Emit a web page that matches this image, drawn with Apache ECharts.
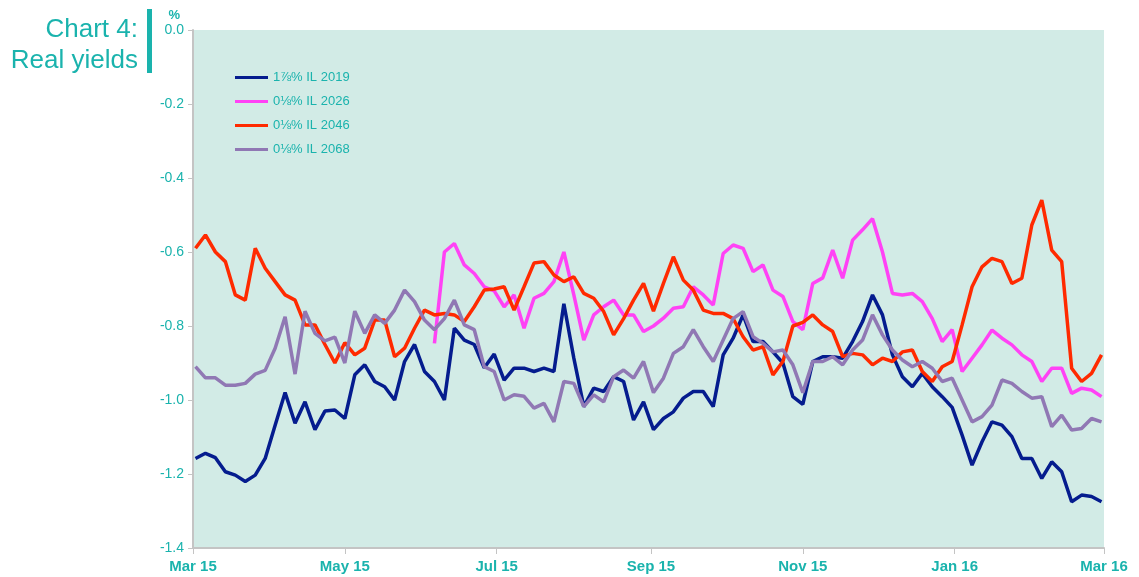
<!DOCTYPE html>
<html>
<head>
<meta charset="utf-8">
<title>Chart 4: Real yields</title>
<script src="https://cdn.jsdelivr.net/npm/echarts@6/dist/echarts.min.js"></script>
<style>
  html, body { margin: 0; padding: 0; background: #ffffff; }
  #main { width: 1139px; height: 577px; }
</style>
</head>
<body>
<div id="main"></div>
<script>
// sample dates (every 4 days)
var dates = [
  '2015-03-02','2015-03-06','2015-03-10','2015-03-14','2015-03-18','2015-03-22','2015-03-26','2015-03-30',
  '2015-04-03','2015-04-07','2015-04-11','2015-04-15','2015-04-19','2015-04-23','2015-04-27','2015-05-01',
  '2015-05-05','2015-05-09','2015-05-13','2015-05-17','2015-05-21','2015-05-25','2015-05-29','2015-06-02',
  '2015-06-06','2015-06-10','2015-06-14','2015-06-18','2015-06-22','2015-06-26','2015-06-30','2015-07-04',
  '2015-07-08','2015-07-12','2015-07-16','2015-07-20','2015-07-24','2015-07-28','2015-08-01','2015-08-05',
  '2015-08-09','2015-08-13','2015-08-17','2015-08-21','2015-08-25','2015-08-29','2015-09-02','2015-09-06',
  '2015-09-10','2015-09-14','2015-09-18','2015-09-22','2015-09-26','2015-09-30','2015-10-04','2015-10-08',
  '2015-10-12','2015-10-16','2015-10-20','2015-10-24','2015-10-28','2015-11-01','2015-11-05','2015-11-09',
  '2015-11-13','2015-11-17','2015-11-21','2015-11-25','2015-11-29','2015-12-03','2015-12-07','2015-12-11',
  '2015-12-15','2015-12-19','2015-12-23','2015-12-27','2015-12-31','2016-01-04','2016-01-08','2016-01-12',
  '2016-01-16','2016-01-20','2016-01-24','2016-01-28','2016-02-01','2016-02-05','2016-02-09','2016-02-13',
  '2016-02-17','2016-02-21','2016-02-25','2016-02-29'
];

var il2019 = [
  -1.158,-1.144,-1.156,-1.194,-1.203,-1.22,-1.203,-1.158,-1.068,-0.98,-1.063,-1.005,-1.08,-1.03,-1.027,-1.05,
  -0.932,-0.905,-0.95,-0.964,-1.0,-0.896,-0.85,-0.923,-0.95,-1.0,-0.806,-0.838,-0.85,-0.913,-0.876,-0.946,
  -0.914,-0.914,-0.923,-0.914,-0.923,-0.74,-0.887,-1.018,-0.968,-0.977,-0.937,-0.95,-1.054,-1.005,-1.08,-1.05,
  -1.032,-0.995,-0.977,-0.977,-1.018,-0.878,-0.833,-0.77,-0.842,-0.842,-0.87,-0.9,-0.991,-1.012,-0.896,-0.883,
  -0.883,-0.887,-0.842,-0.788,-0.716,-0.77,-0.878,-0.937,-0.964,-0.928,-0.964,-0.991,-1.02,-1.095,-1.176,-1.113,
  -1.059,-1.068,-1.099,-1.158,-1.158,-1.212,-1.167,-1.194,-1.275,-1.257,-1.261,-1.275
];

var il2026 = [
  null,null,null,null,null,null,null,null,null,null,null,null,null,null,null,null,
  null,null,null,null,null,null,null,null,-0.847,-0.6,-0.577,-0.635,-0.658,-0.694,-0.705,-0.748,
  -0.716,-0.806,-0.725,-0.712,-0.68,-0.6,-0.716,-0.838,-0.77,-0.748,-0.73,-0.77,-0.77,-0.815,-0.8,-0.779,
  -0.752,-0.748,-0.694,-0.716,-0.743,-0.604,-0.581,-0.59,-0.653,-0.635,-0.703,-0.72,-0.788,-0.81,-0.685,-0.67,
  -0.595,-0.671,-0.568,-0.54,-0.51,-0.6,-0.712,-0.716,-0.712,-0.734,-0.78,-0.842,-0.81,-0.923,-0.887,-0.851,
  -0.811,-0.833,-0.851,-0.878,-0.896,-0.95,-0.914,-0.914,-0.982,-0.968,-0.973,-0.991
];

var il2046 = [
  -0.59,-0.554,-0.6,-0.626,-0.716,-0.73,-0.59,-0.644,-0.68,-0.716,-0.73,-0.797,-0.797,-0.85,-0.9,-0.845,
  -0.878,-0.86,-0.784,-0.784,-0.883,-0.86,-0.806,-0.757,-0.77,-0.766,-0.77,-0.788,-0.748,-0.703,-0.7,-0.694,
  -0.757,-0.694,-0.63,-0.626,-0.662,-0.68,-0.667,-0.712,-0.725,-0.761,-0.824,-0.78,-0.73,-0.685,-0.76,-0.685,
  -0.613,-0.676,-0.703,-0.757,-0.766,-0.766,-0.78,-0.829,-0.865,-0.856,-0.932,-0.896,-0.8,-0.79,-0.77,-0.797,
  -0.815,-0.883,-0.874,-0.878,-0.905,-0.887,-0.896,-0.87,-0.865,-0.923,-0.95,-0.91,-0.896,-0.797,-0.694,-0.64,
  -0.617,-0.626,-0.685,-0.671,-0.527,-0.46,-0.595,-0.626,-0.914,-0.95,-0.928,-0.878
];

var il2068 = [
  -0.91,-0.94,-0.94,-0.96,-0.96,-0.955,-0.93,-0.92,-0.86,-0.775,-0.93,-0.76,-0.82,-0.84,-0.83,-0.9,
  -0.76,-0.82,-0.77,-0.793,-0.757,-0.703,-0.734,-0.784,-0.81,-0.78,-0.73,-0.797,-0.81,-0.91,-0.923,-1.0,
  -0.986,-0.99,-1.022,-1.009,-1.059,-0.95,-0.955,-1.018,-0.986,-1.005,-0.937,-0.919,-0.941,-0.896,-0.98,-0.941,
  -0.874,-0.856,-0.81,-0.856,-0.896,-0.838,-0.78,-0.761,-0.829,-0.847,-0.87,-0.865,-0.905,-0.98,-0.896,-0.896,
  -0.883,-0.905,-0.865,-0.838,-0.77,-0.824,-0.865,-0.892,-0.91,-0.896,-0.914,-0.95,-0.941,-1.0,-1.059,-1.045,
  -1.014,-0.946,-0.955,-0.977,-0.995,-0.991,-1.072,-1.041,-1.081,-1.077,-1.05,-1.059
];

var names = ['1⅞% IL 2019', '0⅛% IL 2026', '0⅛% IL 2046', '0⅛% IL 2068'];
var colors = ['#051c8e', '#ff42f5', '#ff2a00', '#9078b4'];

var tickDates = ['2015-03-01','2015-05-01','2015-07-01','2015-09-01','2015-11-01','2016-01-01','2016-03-01'];
var tickLabels = ['Mar 15','May 15','Jul 15','Sep 15','Nov 15','Jan 16','Mar 16'];

var teal = '#1ab3ad';

// day number counted from the first tick date
function dayOf(s) {
  var p = s.split('-');
  var t = Date.UTC(+p[0], +p[1] - 1, +p[2]);
  var q = tickDates[0].split('-');
  var t0 = Date.UTC(+q[0], +q[1] - 1, +q[2]);
  return Math.round((t - t0) / 86400000);
}

var tickDays = tickDates.map(dayOf);
var allValues = [il2019, il2026, il2046, il2068];

var series = [];
for (let i = 0; i < names.length; i++) {
  let data = [];
  for (let j = 0; j < dates.length; j++) {
    data.push([dayOf(dates[j]), allValues[i][j]]);
  }
  series.push({
    name: names[i],
    type: 'line',
    data: data,
    symbol: 'none',
    connectNulls: false,
    lineStyle: { width: 3.5, color: colors[i] },
    itemStyle: { color: colors[i] }
  });
}

var myChart = echarts.init(document.getElementById('main'));
var option = {
  animation: false,
  textStyle: { fontFamily: 'Liberation Sans, Arial, sans-serif' },
  title: {
    text: 'Chart 4:\nReal yields',
    left: 133,
    top: 9,
    textAlign: 'right',
    textStyle: {
      fontSize: 26,
      fontWeight: 'normal',
      color: teal,
      lineHeight: 31,
      align: 'right',
      fontFamily: 'Liberation Sans, Arial, sans-serif'
    }
  },
  graphic: [{
    type: 'rect',
    left: 147,
    top: 9,
    shape: { width: 5, height: 64 },
    style: { fill: teal }
  }],
  legend: {
    orient: 'vertical',
    left: 230,
    top: 66,
    itemWidth: 33,
    itemHeight: 3,
    itemGap: 11,
    icon: 'rect',
    data: names,
    textStyle: { color: teal, fontSize: 13 }
  },
  grid: {
    left: 193,
    right: 35,
    top: 30,
    bottom: 29,
    show: true,
    backgroundColor: '#d2ebe6',
    borderWidth: 0
  },
  xAxis: {
    type: 'value',
    min: tickDays[0],
    max: tickDays[tickDays.length - 1],
    axisLine: { show: true, onZero: false, lineStyle: { color: '#c4c4c4', width: 2 } },
    axisTick: { show: true, length: 6, customValues: tickDays, lineStyle: { color: '#c4c4c4', width: 1 } },
    splitLine: { show: false },
    axisLabel: {
      customValues: tickDays,
      margin: 11,
      color: teal,
      fontSize: 15,
      fontWeight: 'bold',
      fontFamily: 'Liberation Sans Narrow, Arial Narrow, sans-serif',
      showMinLabel: true,
      showMaxLabel: true,
      formatter: function (value) {
        var k = tickDays.indexOf(Math.round(value));
        return k >= 0 ? tickLabels[k] : '';
      }
    }
  },
  yAxis: {
    type: 'value',
    min: -1.4,
    max: 0,
    interval: 0.2,
    name: '%',
    nameLocation: 'end',
    nameGap: 8,
    nameTextStyle: { color: teal, fontSize: 13, fontWeight: 'bold', align: 'right', padding: [0, 13, 0, 0] },
    axisLine: { show: true, lineStyle: { color: '#c4c4c4', width: 2 } },
    axisTick: { show: true, length: 5, lineStyle: { color: '#c4c4c4' } },
    splitLine: { show: false },
    axisLabel: {
      color: teal,
      fontSize: 14,
      margin: 9,
      formatter: function (v) { return v.toFixed(1); }
    }
  },
  series: series
};
myChart.setOption(option);
</script>
</body>
</html>
